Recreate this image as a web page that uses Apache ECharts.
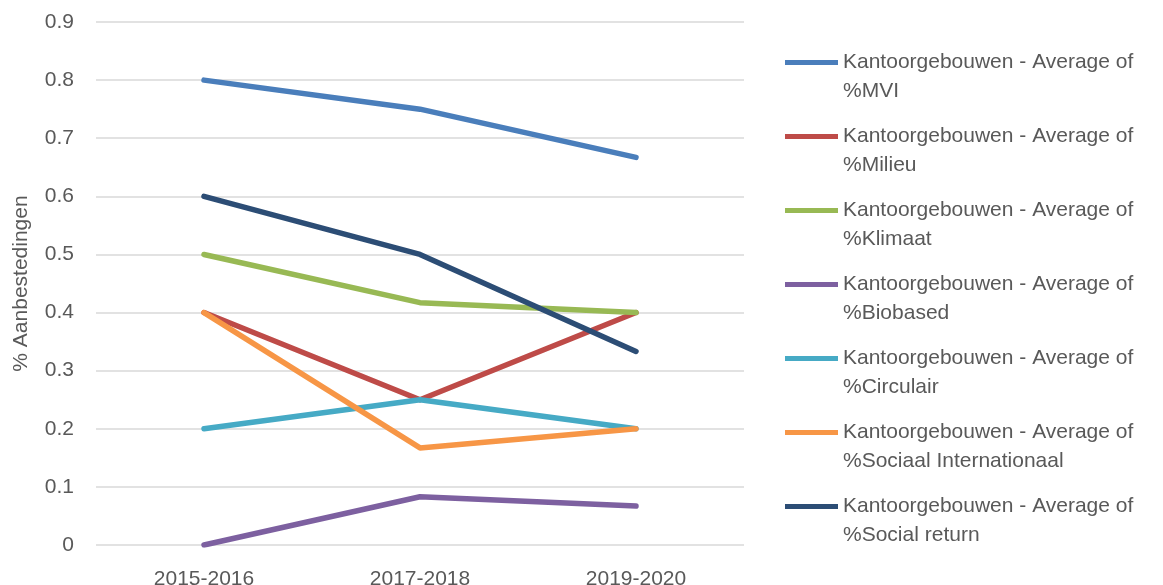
<!DOCTYPE html>
<html>
<head>
<meta charset="utf-8">
<script src="https://cdn.jsdelivr.net/npm/echarts@6/dist/echarts.min.js"></script>
<style>
html, body { margin: 0; padding: 0; background: #fff; }
#chart { width: 1163px; height: 585px; }
</style>
</head>
<body>
<div id="chart"></div>
<script>
var years = ['2015-2016', '2017-2018', '2019-2020'];
var prefix = 'Kantoorgebouwen - Average of';
var seriesNames = ['%MVI', '%Milieu', '%Klimaat', '%Biobased', '%Circulair', '%Sociaal Internationaal', '%Social return'];
var mvi = [0.8, 0.75, 0.667];
var milieu = [0.4, 0.25, 0.4];
var klimaat = [0.5, 0.417, 0.4];
var biobased = [0, 0.083, 0.067];
var circulair = [0.2, 0.25, 0.2];
var sociaalInt = [0.4, 0.167, 0.2];
var socialReturn = [0.6, 0.5, 0.333];
var colors = ['#4a7ebb', '#be4b48', '#98b954', '#7d60a0', '#46aac5', '#f79646', '#2c4d75'];

var allData = [mvi, milieu, klimaat, biobased, circulair, sociaalInt, socialReturn];
var font = 'Liberation Sans, Arial, sans-serif';

var chart = echarts.init(document.getElementById('chart'));

var series = allData.map(function (d, i) {
    return {
        name: prefix + '\n' + seriesNames[i],
        type: 'line',
        data: d,
        symbol: 'none',
        lineStyle: { width: 5.5, color: colors[i], cap: 'round', join: 'round' },
        itemStyle: { color: colors[i] }
    };
});

chart.setOption({
    animation: false,
    grid: { left: 96, right: 419, top: 22, bottom: 40, outerBoundsMode: 'none' },
    legend: {
        orient: 'vertical',
        left: 780,
        top: 14,
        icon: 'rect',
        itemWidth: 53,
        itemHeight: 5,
        itemGap: -13,
        selectedMode: false,
        // leading empty line puts the first text line level with the icon
        formatter: function (name) { return '\n' + name; },
        textStyle: {
            fontFamily: font,
            fontSize: 21,
            color: '#595959',
            lineHeight: 29
        },
        data: series.map(function (s) { return s.name; })
    },
    xAxis: {
        type: 'category',
        data: years,
        boundaryGap: true,
        axisLine: { show: false },
        axisTick: { show: false },
        axisLabel: { fontFamily: font, fontSize: 21, color: '#595959', margin: 24 }
    },
    yAxis: {
        type: 'value',
        min: 0,
        max: 0.9,
        interval: 0.1,
        name: '% Aanbestedingen',
        nameLocation: 'middle',
        nameGap: 64,
        nameTextStyle: { fontFamily: font, fontSize: 21, color: '#595959' },
        axisLine: { show: false },
        axisTick: { show: false },
        splitLine: { lineStyle: { color: '#d9d9d9', width: 1.5 } },
        axisLabel: {
            fontFamily: font, fontSize: 21, color: '#595959', margin: 22,
            formatter: function (v) { return v === 0 ? '0' : v.toFixed(1); }
        }
    },
    series: series
});
</script>
</body>
</html>
